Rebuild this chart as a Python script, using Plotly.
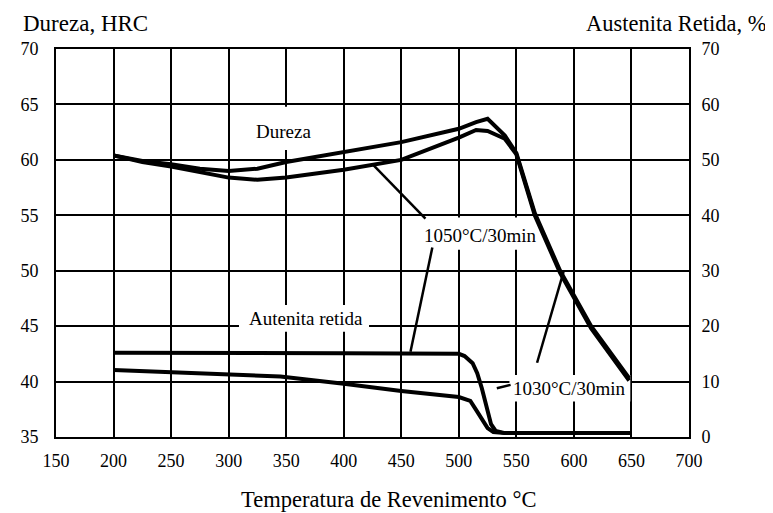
import plotly.graph_objects as go

# ---- Data ----
temp_hard_1030 = [200, 225, 250, 275, 300, 325, 350, 400, 450, 500, 515, 525, 540, 550, 566, 588, 615, 648]
hard_1030      = [60.4, 59.9, 59.6, 59.2, 59.0, 59.2, 59.8, 60.7, 61.6, 62.8, 63.4, 63.7, 62.2, 60.6, 55.2, 50.0, 45.0, 40.3]

temp_hard_1050 = [200, 225, 250, 275, 300, 325, 350, 400, 450, 500, 515, 525, 540, 550, 566, 588, 615, 648]
hard_1050      = [60.4, 59.8, 59.4, 58.9, 58.4, 58.2, 58.4, 59.1, 60.0, 62.0, 62.7, 62.6, 61.9, 60.5, 55.0, 49.8, 44.8, 40.1]

temp_ar_upper = [200, 300, 400, 500, 505, 512, 516, 520, 524, 528, 532, 540, 600, 650]
ar_upper      = [15.2, 15.2, 15.1, 15.0, 14.6, 13.3, 11.5, 8.8, 5.2, 2.3, 1.1, 0.7, 0.7, 0.7]

temp_ar_lower = [200, 270, 320, 345, 400, 450, 500, 505, 510, 515, 520, 525, 530, 540, 600, 650]
ar_lower      = [12.1, 11.5, 11.2, 10.9, 9.6, 8.3, 7.2, 6.9, 6.5, 4.9, 3.1, 1.6, 0.9, 0.7, 0.7, 0.7]

x_ticks = [150, 200, 250, 300, 350, 400, 450, 500, 550, 600, 650, 700]
y_left_ticks = [35, 40, 45, 50, 55, 60, 65, 70]
y_right_ticks = [0, 10, 20, 30, 40, 50, 60, 70]

# label texts and anchor points (temperature, HRC)
labels = [
    ("Dureza", 348, 62.6),
    ("Autenita retida", 367, 45.7),
    ("1050°C/30min", 519, 53.2),
    ("1030°C/30min", 596, 39.4),
]
# leader lines (T0, H0, T1, H1)
leaders = [
    (426, 59.5, 471, 54.7),
    (477, 52.1, 458, 42.7),
    (568, 41.7, 591, 49.9),
    (533, 39.4, 545, 39.7),
]
# white patches behind labels (T0, T1, H0, H1)
label_boxes = [
    (323, 374, 60.9, 64.8),
    (309, 422, 44.5, 46.9),
    (469, 568, 51.9, 54.8),
    (544, 649, 38.2, 40.6),
]

FONT = "Liberation Serif, Times New Roman, serif"

fig = go.Figure()
line_style = dict(color="black", width=4)
fig.add_trace(go.Scatter(x=temp_hard_1030, y=hard_1030, mode="lines", line=line_style, yaxis="y", showlegend=False))
fig.add_trace(go.Scatter(x=temp_hard_1050, y=hard_1050, mode="lines", line=line_style, yaxis="y", showlegend=False))
fig.add_trace(go.Scatter(x=temp_ar_upper, y=ar_upper, mode="lines", line=line_style, yaxis="y2", showlegend=False))
fig.add_trace(go.Scatter(x=temp_ar_lower, y=ar_lower, mode="lines", line=line_style, yaxis="y2", showlegend=False))

shapes = []
for t0, t1, h0, h1 in label_boxes:
    shapes.append(dict(type="rect", xref="x", yref="y", x0=t0, x1=t1, y0=h0, y1=h1,
                       fillcolor="white", line=dict(width=0), layer="between"))
for t0, h0, t1, h1 in leaders:
    shapes.append(dict(type="line", xref="x", yref="y", x0=t0, y0=h0, x1=t1, y1=h1,
                       line=dict(color="black", width=2.5), layer="above"))

annotations = []
for txt, t, h in labels:
    annotations.append(dict(text=txt, x=t, y=h, xref="x", yref="y", showarrow=False,
                            font=dict(family=FONT, size=19, color="black")))
annotations += [
    dict(text="Dureza, HRC", x=-0.056, y=1.067, xref="paper", yref="paper", xanchor="left",
         yanchor="middle", showarrow=False, font=dict(family=FONT, size=23, color="black")),
    dict(text="Austenita Retida, %", x=1.126, y=1.067, xref="paper", yref="paper", xanchor="right",
         yanchor="middle", showarrow=False, font=dict(family=FONT, size=22.5, color="black")),
    dict(text="Temperatura de Revenimento °C", x=0.526, y=-0.16, xref="paper", yref="paper",
         xanchor="center", yanchor="middle", showarrow=False, font=dict(family=FONT, size=22.5, color="black")),
]

axis_common = dict(showline=True, linecolor="black", linewidth=2, ticks="", zeroline=False,
                   tickfont=dict(family=FONT, size=18, color="black"))

# page body has an 8px margin, so the figure is sized/offset to compensate
fig.update_layout(
    width=765, height=505,
    margin=dict(l=40, r=84, t=41, b=76),
    paper_bgcolor="white", plot_bgcolor="white",
    xaxis=dict(range=[150, 700], tickvals=x_ticks, showgrid=True, gridcolor="black", gridwidth=2,
               mirror=True, ticklabelstandoff=6, **axis_common),
    yaxis=dict(range=[35, 70], tickvals=y_left_ticks, showgrid=True, gridcolor="black", gridwidth=2,
               mirror=True, ticklabelstandoff=12, **axis_common),
    yaxis2=dict(range=[0, 70], tickvals=y_right_ticks, overlaying="y", side="right", showgrid=False,
                ticklabelstandoff=7, **axis_common),
    shapes=shapes,
    annotations=annotations,
)

fig.write_html("out.html")
